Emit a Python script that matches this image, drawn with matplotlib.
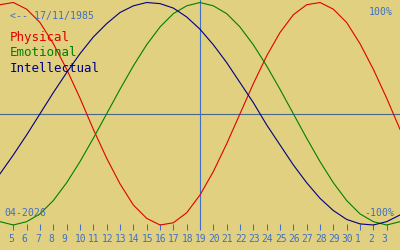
import matplotlib
matplotlib.use("Agg")
import matplotlib.pyplot as plt
from matplotlib.transforms import ScaledTranslation

# Days shown: 4 April 2026 .. 4 May 2026 (index 0..30)
day_labels = ["4", "5", "6", "7", "8", "9", "10", "11", "12", "13", "14", "15", "16", "17",
              "18", "19", "20", "21", "22", "23", "24", "25", "26", "27", "28", "29", "30",
              "1", "2", "3", "4"]
physical = [0.98, 1.00, 0.94, 0.82, 0.63, 0.40, 0.14, -0.14, -0.40, -0.63, -0.82, -0.94,
            -1.00, -0.98, -0.89, -0.73, -0.52, -0.27, 0.00, 0.27, 0.52, 0.73, 0.89, 0.98,
            1.00, 0.94, 0.82, 0.63, 0.40, 0.14, -0.14]
emotional = [-0.97, -1.00, -0.97, -0.90, -0.78, -0.62, -0.43, -0.22, 0.00, 0.22, 0.43, 0.62,
             0.78, 0.90, 0.97, 1.00, 0.97, 0.90, 0.78, 0.62, 0.43, 0.22, 0.00, -0.22, -0.43,
             -0.62, -0.78, -0.90, -0.97, -1.00, -0.97]
intellectual = [-0.54, -0.37, -0.19, 0.00, 0.19, 0.37, 0.54, 0.69, 0.81, 0.91, 0.97, 1.00,
                0.99, 0.95, 0.87, 0.76, 0.62, 0.46, 0.28, 0.10, -0.10, -0.28, -0.46, -0.62,
                -0.76, -0.87, -0.95, -0.99, -1.00, -0.97, -0.91]
today_index = 15
series_names = ["Physical", "Emotional", "Intellectual"]
birth_text = "<-- 17/11/1985"
month_text = "04-2026"

bg = "#e0d080"
blue = "#3f6fc4"
colors = ["#e00000", "#008000", "#000080"]
font = "DejaVu Sans Mono"

W, H = 400, 250
fig = plt.figure(figsize=(W / 100, H / 100), dpi=100, facecolor=bg)
ax_h = 230
ax = fig.add_axes([0, 1 - ax_h / H, 1, ax_h / H])
ax.set_facecolor(bg)
for s in ax.spines.values():
    s.set_visible(False)

x = list(range(len(physical)))
ppu = 111.25
ax.set_xlim(0, 30)
ax.set_ylim(-1 - 5 / ppu, 1 + 2.5 / ppu)

ax.axhline(0, color="#4a6688", lw=0.8, zorder=1)
ax.axvline(today_index, color=blue, lw=0.8, zorder=1)
for vals, c in zip([physical, emotional, intellectual], colors):
    ax.plot(x, vals, color=c, lw=0.8, zorder=2)

ax.set_yticks([])
ax.set_xticks(x[1:30])
ax.set_xticklabels(day_labels[1:30], fontsize=6.9, color=blue, family=font)
ax.tick_params(axis="x", direction="in", length=4.3, width=0.75, color=blue, pad=2.9)
off = ScaledTranslation(-5 / 100, 0, fig.dpi_scale_trans)
for lab in ax.get_xticklabels():
    lab.set_ha("left")
    lab.set_transform(lab.get_transform() + off)

def ftext(px, py, s, **kw):
    fig.text(px / W, 1 - py / H, s, family=font, va="center", **kw)

ftext(10, 16, birth_text, fontsize=7.1, color=blue, ha="left")
ftext(393, 12, "100%", fontsize=7.1, color=blue, ha="right")
ftext(394, 213, "-100%", fontsize=7.1, color=blue, ha="right")
ftext(4, 213, month_text, fontsize=7.1, color=blue, ha="left")
for i, (n, c) in enumerate(zip(series_names, colors)):
    ftext(10, 38 + i * 15, n, fontsize=9, color=c, ha="left")

fig.savefig("out.png", dpi=100, facecolor=bg)
